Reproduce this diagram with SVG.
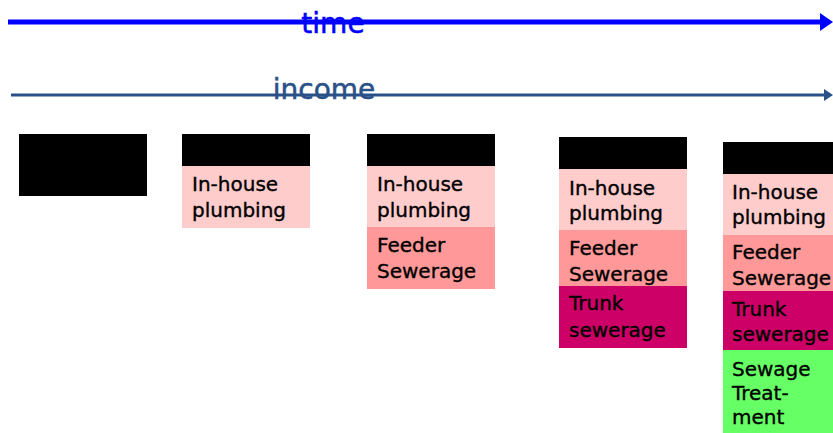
<svg xmlns="http://www.w3.org/2000/svg" width="833" height="433" viewBox="0 0 833 433">
<style>
.t{font-family:"Comic Sans MS","DejaVu Sans",sans-serif;font-size:20px;fill:#000;stroke:#000;stroke-width:0.35}
.ax{font-family:"Comic Sans MS","DejaVu Sans",sans-serif;font-size:28px;stroke-width:0.5}
.blk{fill:#000}
.p1{fill:#FFCCCC}
.p2{fill:#FF9999}
.p3{fill:#CC0066}
.p4{fill:#66FF66}
</style>
<rect width="833" height="433" fill="#fff"/>
<g id="connectors">
<line x1="8" y1="22" x2="822" y2="22" stroke="#0000FF" stroke-width="5"/>
<polygon points="820,13 833,22 820,31" fill="#0000FF"/>
<line x1="11" y1="95" x2="826" y2="95" stroke="#2A5088" stroke-width="3"/>
<polygon points="824,89 833,95 824,101" fill="#2A5088"/>
</g>
<g id="time-label"><text class="ax" x="333" y="33" text-anchor="middle" fill="#0000FF" stroke="#0000FF">time</text></g>
<g id="income-label"><text class="ax" x="324" y="99" text-anchor="middle" fill="#2A5088" stroke="#2A5088">income</text></g>
<g id="stage1">
<rect class="blk" x="19" y="134" width="128" height="62"/>
</g>
<g id="stage2">
<rect class="blk" x="182" y="134" width="128" height="32"/>
<rect class="p1" x="182" y="166" width="128" height="62"/>
<text class="t" x="192" y="191">In-house</text>
<text class="t" x="192" y="217">plumbing</text>
</g>
<g id="stage3">
<rect class="blk" x="367" y="134" width="128" height="32"/>
<rect class="p1" x="367" y="166" width="128" height="61"/>
<rect class="p2" x="367" y="227" width="128" height="62"/>
<text class="t" x="377" y="191">In-house</text>
<text class="t" x="377" y="217">plumbing</text>
<text class="t" x="377" y="252">Feeder</text>
<text class="t" x="377" y="278">Sewerage</text>
</g>
<g id="stage4">
<rect class="blk" x="559" y="137" width="128" height="32"/>
<rect class="p1" x="559" y="169" width="128" height="61"/>
<rect class="p2" x="559" y="230" width="128" height="56"/>
<rect class="p3" x="559" y="286" width="128" height="62"/>
<text class="t" x="569" y="195">In-house</text>
<text class="t" x="569" y="220">plumbing</text>
<text class="t" x="569" y="255">Feeder</text>
<text class="t" x="569" y="281">Sewerage</text>
<text class="t" x="569" y="310">Trunk</text>
<text class="t" x="569" y="337">sewerage</text>
</g>
<g id="stage5">
<rect class="blk" x="723" y="142" width="110" height="32"/>
<rect class="p1" x="723" y="174" width="110" height="61"/>
<rect class="p2" x="723" y="235" width="110" height="56"/>
<rect class="p3" x="723" y="291" width="110" height="59"/>
<rect class="p4" x="723" y="350" width="110" height="83"/>
<text class="t" x="732" y="199">In-house</text>
<text class="t" x="732" y="224">plumbing</text>
<text class="t" x="732" y="259">Feeder</text>
<text class="t" x="732" y="285">Sewerage</text>
<text class="t" x="732" y="316">Trunk</text>
<text class="t" x="732" y="341">sewerage</text>
<text class="t" x="732" y="376">Sewage</text>
<text class="t" x="732" y="400">Treat-</text>
<text class="t" x="732" y="424">ment</text>
</g>
</svg>
